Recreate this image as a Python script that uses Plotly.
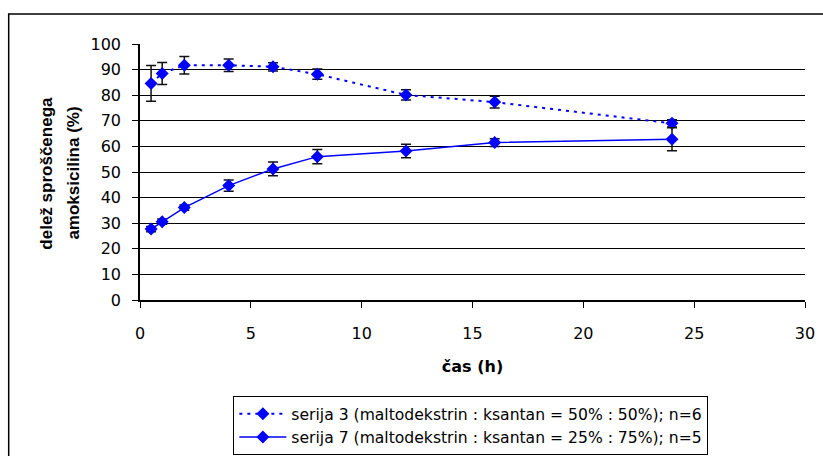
import plotly.graph_objects as go

# release time points (h)
cas = [0.5, 1, 2, 4, 6, 8, 12, 16, 24]

# serija 3: maltodekstrin : ksantan = 50% : 50%
s3_mean = [84.6, 88.5, 91.7, 91.7, 91.1, 88.2, 80.1, 77.3, 69.0]
s3_sd = [7.0, 4.3, 3.4, 2.4, 1.6, 2.0, 2.0, 2.3, 1.4]

# serija 7: maltodekstrin : ksantan = 25% : 75%
s7_mean = [27.7, 30.6, 36.1, 44.7, 51.2, 56.0, 58.2, 61.5, 62.8]
s7_sd = [1.0, 1.0, 1.0, 2.2, 2.7, 2.8, 2.6, 1.5, 4.5]

names = [
    "serija 3 (maltodekstrin : ksantan = 50% : 50%); n=6",
    "serija 7 (maltodekstrin : ksantan = 25% : 75%); n=5",
]

x_ticks = [0, 5, 10, 15, 20, 25, 30]
y_ticks = list(range(0, 101, 10))

y_title_lines = ["delež sproščenega", "amoksicilina (%)"]

BLUE = "#0000FF"
FONT = "DejaVu Sans, Arial, sans-serif"
FONT_V = "Liberation Sans, Arial, sans-serif"

W, H = 823, 456
L, R, T, B = 139.5, 17.5, 44, 156
PW, PH = W - L - R, H - T - B


def px_x(p):
    return (p - L) / PW


def px_y(p):
    return (H - B - p) / PH


err_style = dict(type="data", color="#111111", thickness=1.5, width=5)

fig = go.Figure()
fig.add_trace(go.Scatter(
    x=cas, y=s3_mean, name=names[0], mode="lines+markers",
    line=dict(color=BLUE, width=2, dash="3px,5px"),
    marker=dict(symbol="diamond", size=10, color=BLUE),
    error_y=dict(array=s3_sd, **err_style),
))
fig.add_trace(go.Scatter(
    x=cas, y=s7_mean, name=names[1], mode="lines+markers",
    line=dict(color=BLUE, width=1.5),
    marker=dict(symbol="diamond", size=10, color=BLUE),
    error_y=dict(array=s7_sd, **err_style),
))

# outer chart frame
fig.add_shape(type="rect", xref="paper", yref="paper",
              x0=px_x(8), x1=px_x(826), y0=px_y(470), y1=px_y(14),
              line=dict(color="black", width=1.5), layer="below")

# two-line rotated y axis title
for text, xp in zip(y_title_lines, [45, 72]):
    fig.add_annotation(
        text=f"<b>{text}</b>", xref="paper", yref="paper",
        x=px_x(xp), y=px_y(173), xanchor="center", yanchor="middle",
        textangle=-90, showarrow=False,
        font=dict(family=FONT_V, size=17, color="black"),
    )

fig.update_layout(
    width=W, height=H,
    margin=dict(l=L, r=R, t=T, b=B, autoexpand=False),
    paper_bgcolor="white", plot_bgcolor="white",
    font=dict(family=FONT, size=16, color="black"),
    showlegend=True,
    legend=dict(
        x=px_x(233), y=px_y(396), xanchor="left", yanchor="top",
        bordercolor="black", borderwidth=1, bgcolor="white",
        font=dict(family=FONT, size=15.6, color="black"),
        tracegroupgap=0, itemwidth=47,
    ),
    xaxis=dict(
        range=[0, 30], tickvals=x_ticks, ticks="outside", ticklen=6,
        tickcolor="black", showline=True, linecolor="black", linewidth=1.5,
        showgrid=False, zeroline=False, ticklabelstandoff=12,
        title=dict(text="<b>čas (h)</b>", font=dict(size=16), standoff=19),
    ),
    yaxis=dict(
        range=[0, 100], tickvals=y_ticks, ticks="outside", ticklen=6,
        tickcolor="black", showline=True, linecolor="black", linewidth=1.5,
        showgrid=True, gridcolor="black", gridwidth=1, zeroline=False,
        ticklabelstandoff=8,
    ),
)

fig.write_html("out.html")
